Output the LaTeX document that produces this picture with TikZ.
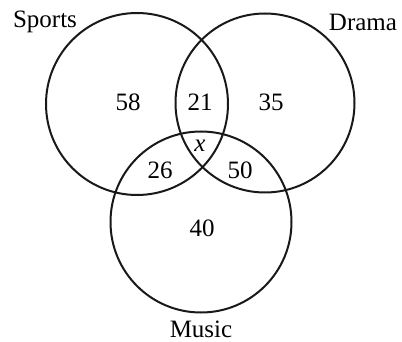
\documentclass[tikz,border=0pt]{standalone}
\usepackage{fontspec}
\setmainfont{Liberation Serif}
\begin{document}
\begin{tikzpicture}[x=1pt,y=-1pt,
  setcircle/.style={draw=black!90,line width=2pt},
  lab/.style={font=\fontsize{25}{28}\selectfont,inner sep=0pt},
  num/.style={font=\fontsize{25}{28}\selectfont,inner sep=0pt}]
\useasboundingbox (0,0) rectangle (402,342);
\draw[setcircle] (137,104) circle[radius=91];
\draw[setcircle] (265,103) circle[radius=89.5];
\draw[setcircle] (201,222) circle[radius=90.5];
\node[lab] (sports) at (45,22) {Sports};
\node[lab] (drama) at (363,22) {Drama};
\node[lab] (music) at (201,329.5) {Music};
\node[num] (a) at (128,102) {58};
\node[num] (b) at (200,102) {21};
\node[num] (c) at (271,102) {35};
\node[num] (d) at (200,146) {\textit{x}};
\node[num] (e) at (160,170) {26};
\node[num] (f) at (240,170) {50};
\node[num] (g) at (202,228) {40};
\end{tikzpicture}
\end{document}
